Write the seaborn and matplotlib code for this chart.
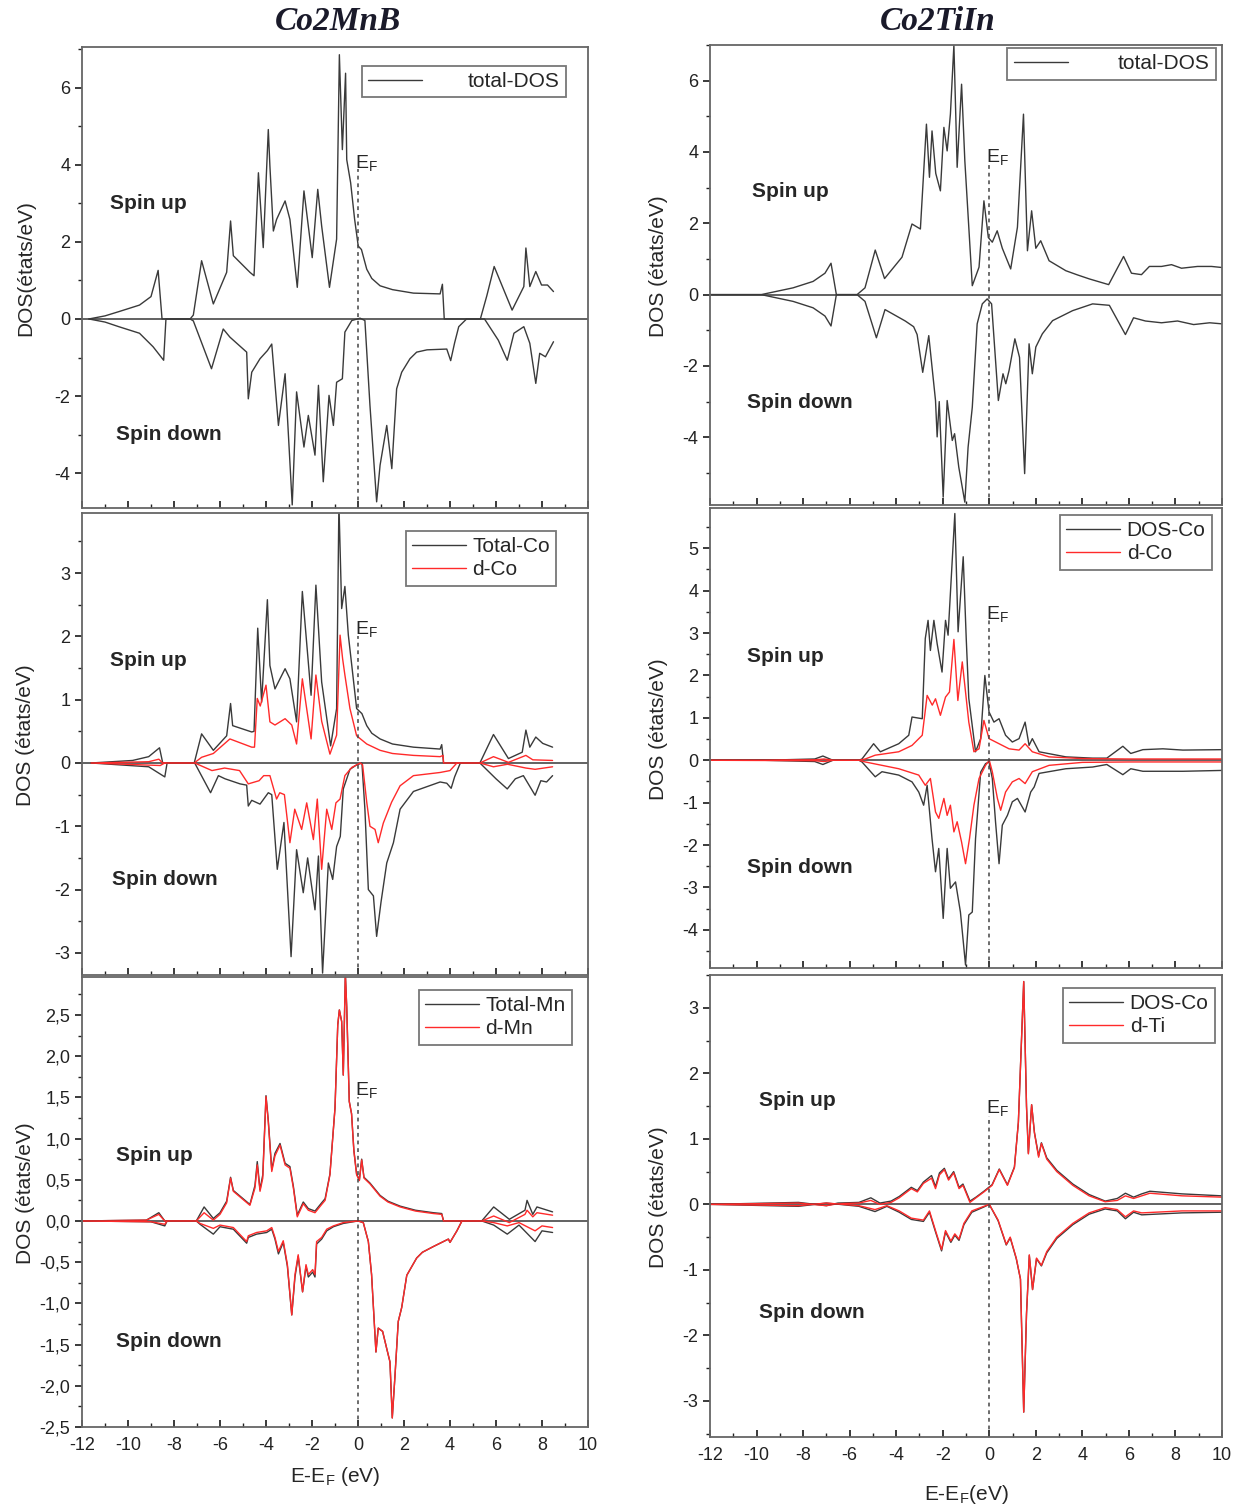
import matplotlib
matplotlib.use("Agg")
import matplotlib.pyplot as plt
from matplotlib.ticker import MultipleLocator, AutoMinorLocator, FuncFormatter
import seaborn as sns

# ---------- Co2MnB : total DOS ----------
mnb_tot_up_e = [-11.7, -11.0, -10.4, -9.5, -9.0, -8.69, -8.52, -7.3, -7.16, -6.8, -6.29, -5.71, -5.54, -5.42, -4.7, -4.52,
                -4.33, -4.12, -3.9, -3.83, -3.68, -3.54, -3.17, -2.96, -2.64, -2.35, -1.99, -1.75, -1.58, -1.24,
                -0.93, -0.81, -0.68, -0.54, -0.49, -0.32, -0.15, 0.01, 0.15, 0.38, 0.6, 0.96, 1.5, 2.41, 3.57, 3.67, 3.75,
                5.32, 5.6, 5.92, 6.7, 7.21, 7.3, 7.47, 7.73, 7.98, 8.24, 8.5]
mnb_tot_up = [0.0, 0.08, 0.19, 0.36, 0.58, 1.26, 0.0, 0.0, 0.1, 1.51, 0.39, 1.21, 2.54, 1.64, 1.21, 1.12,
              3.79, 1.85, 4.91, 3.96, 2.28, 2.58, 3.06, 2.58, 0.82, 3.32, 1.59, 3.36, 2.41, 0.82,
              2.07, 6.85, 4.39, 6.37, 4.13, 3.53, 2.6, 1.89, 1.8, 1.29, 1.05, 0.86, 0.76, 0.67, 0.65, 0.9, 0.0,
              0.0, 0.6, 1.36, 0.23, 0.84, 1.84, 0.84, 1.23, 0.88, 0.88, 0.71]
mnb_tot_dn_e = [-11.7, -11.0, -10.4, -9.5, -8.91, -8.45, -8.35, -7.3, -7.16, -6.37, -5.86, -5.57, -4.84, -4.77, -4.62,
                -4.26, -3.94, -3.75, -3.46, -3.17, -2.86, -2.67, -2.35, -2.16, -1.87, -1.72, -1.51, -1.26, -1.07,
                -0.93, -0.68, -0.57, -0.27, 0.09, 0.3, 0.52, 0.81, 0.96, 1.25, 1.47, 1.68, 1.9, 2.26, 2.55, 3.0, 3.86,
                4.03, 4.2, 4.38, 4.72, 5.5, 6.1, 6.49, 6.78, 7.21, 7.47, 7.73, 7.9, 8.15, 8.5]
mnb_tot_dn = [0.0, -0.08, -0.2, -0.37, -0.72, -1.07, 0.0, 0.0, -0.05, -1.29, -0.26, -0.47, -0.86, -2.07, -1.38,
              -1.03, -0.82, -0.65, -2.76, -1.42, -4.82, -1.89, -3.32, -2.5, -3.53, -1.72, -4.22, -1.98, -2.76,
              -1.64, -1.55, -0.34, -0.04, 0.02, -0.04, -2.24, -4.74, -3.79, -2.76, -3.88, -1.81, -1.38, -1.03, -0.86, -0.8, -0.78,
              -1.08, -0.62, -0.2, 0.0, 0.0, -0.55, -1.07, -0.37, -0.2, -0.63, -1.67, -0.89, -0.98, -0.59]

# ---------- Co2MnB : Co ----------
mnb_co_up_e = [-11.6, -9.8, -9.1, -8.63, -8.49, -7.12, -6.8, -6.29, -5.71, -5.54, -5.45, -4.62, -4.52, -4.36, -4.19,
               -3.94, -3.83, -3.61, -3.46, -3.17, -2.96, -2.67, -2.42, -2.04, -1.83, -1.58, -1.19, -0.93, -0.83,
               -0.71, -0.57, -0.42, -0.27, -0.06, 0.17, 0.38, 0.6, 0.96, 1.5, 2.41, 3.57, 3.64, 3.72, 5.3, 5.89, 6.54, 7.14,
               7.3, 7.47, 7.73, 8.03, 8.46]
mnb_co_up = [0.0, 0.04, 0.1, 0.24, 0.0, 0.0, 0.46, 0.2, 0.43, 0.94, 0.59, 0.49, 0.5, 2.13, 0.96,
             2.58, 1.54, 1.17, 1.28, 1.49, 1.33, 0.65, 2.71, 1.07, 2.81, 1.28, 0.27, 0.86, 4.1,
             2.44, 2.79, 2.02, 1.54, 0.86, 0.78, 0.59, 0.47, 0.38, 0.3, 0.25, 0.22, 0.29, 0.0, 0.0, 0.45, 0.07, 0.17,
             0.52, 0.25, 0.41, 0.31, 0.25]
mnb_dco_up_e = [-11.6, -9.1, -8.66, -8.49, -7.12, -6.8, -6.29, -5.57, -4.62, -4.5, -4.38, -4.25, -4.0, -3.83, -3.61,
                -3.17, -2.88, -2.67, -2.42, -2.04, -1.83, -1.58, -1.22, -0.93, -0.78, -0.67, -0.57, -0.35, -0.06,
                0.38, 0.96, 1.5, 2.41, 3.57, 3.7, 3.72, 5.3, 5.89, 6.54, 7.3, 7.6, 8.46]
mnb_dco_up = [0.0, 0.02, 0.06, 0.0, 0.0, 0.09, 0.15, 0.38, 0.25, 0.25, 1.02, 0.9, 1.23, 0.65, 0.6,
              0.7, 0.6, 0.3, 1.33, 0.38, 1.39, 0.66, 0.14, 0.44, 2.02, 1.65, 1.39, 0.86, 0.43,
              0.3, 0.2, 0.15, 0.12, 0.1, 0.12, 0.0, 0.0, 0.1, 0.01, 0.12, 0.05, 0.04]
mnb_co_dn_e = [-11.6, -9.1, -8.4, -8.3, -7.1, -6.41, -6.07, -5.78, -5.13, -4.84, -4.77, -4.62, -4.26, -3.9, -3.75,
               -3.51, -3.22, -2.91, -2.67, -2.38, -2.19, -1.87, -1.72, -1.54, -1.29, -1.1, -0.93, -0.77, -0.64,
               -0.35, -0.06, 0.17, 0.3, 0.45, 0.67, 0.81, 1.0, 1.25, 1.54, 1.83, 2.41, 3.57, 3.86, 4.05, 4.2, 4.45,
               5.3, 6.0, 6.49, 6.84, 7.19, 7.7, 7.95, 8.2, 8.46]
mnb_co_dn = [0.0, -0.06, -0.22, 0.0, 0.0, -0.47, -0.2, -0.25, -0.33, -0.35, -0.68, -0.59, -0.65, -0.47, -0.5,
             -1.68, -0.94, -3.06, -1.37, -2.05, -1.5, -2.32, -1.47, -3.32, -1.58, -1.84, -1.32, -1.16, -0.41,
             -0.1, -0.03, 0.0, -0.73, -2.0, -2.1, -2.74, -2.2, -1.58, -1.26, -0.73, -0.45, -0.3, -0.32, -0.4, -0.22, 0.0,
             0.0, -0.25, -0.41, -0.25, -0.2, -0.51, -0.28, -0.3, -0.2]
mnb_dco_dn_e = [-11.6, -8.6, -8.4, -7.1, -6.35, -5.8, -5.15, -4.77, -4.3, -4.1, -3.83, -3.54, -3.4, -3.2, -2.96,
                -2.75, -2.45, -2.23, -1.94, -1.77, -1.58, -1.36, -1.14, -0.96, -0.78, -0.57, -0.27, 0.1, 0.2, 0.38,
                0.52, 0.74, 0.88, 1.1, 1.46, 1.83, 2.41, 3.57, 4.0, 4.3, 5.3, 5.89, 6.5, 7.3, 7.7, 8.46]
mnb_dco_dn = [0.0, -0.04, 0.0, 0.0, -0.12, -0.08, -0.12, -0.33, -0.28, -0.2, -0.2, -0.57, -0.47, -0.5, -1.26,
              -0.73, -1.05, -0.63, -1.21, -0.57, -1.68, -0.73, -1.05, -0.63, -0.57, -0.2, -0.07, 0.0, -0.03, -0.62,
              -1.0, -1.05, -1.26, -0.95, -0.62, -0.36, -0.2, -0.15, -0.12, 0.0, 0.0, -0.06, -0.02, -0.08, -0.1, -0.06]

# ---------- Co2MnB : Mn ----------
mnb_mn_up_e = [-12.0, -9.2, -8.66, -8.4, -7.03, -6.69, -6.29, -6.0, -5.71, -5.54, -5.42, -4.7, -4.48, -4.38, -4.26,
               -4.14, -4.0, -3.9, -3.75, -3.61, -3.39, -3.17, -2.96, -2.81, -2.64, -2.38, -2.16, -1.87, -1.58,
               -1.43, -1.22, -1.0, -0.88, -0.81, -0.71, -0.64, -0.55, -0.49, -0.38, -0.28, -0.18, -0.06, 0.06,
               0.16, 0.26, 0.52, 0.96, 1.3, 1.83, 2.5, 3.28, 3.64, 3.72, 5.38, 5.9, 6.58, 7.26, 7.35, 7.6, 7.78, 8.46]
mnb_dmn_up = [0.0, 0.01, 0.08, 0.0, 0.0, 0.1, 0.01, 0.08, 0.22, 0.52, 0.36, 0.19, 0.4, 0.68, 0.36,
              0.52, 1.51, 1.2, 0.6, 0.79, 0.92, 0.68, 0.64, 0.4, 0.05, 0.21, 0.13, 0.1, 0.2,
              0.25, 0.56, 1.37, 2.38, 2.56, 2.42, 1.77, 3.0, 2.59, 1.45, 1.3, 0.85, 0.56, 0.49,
              0.74, 0.52, 0.45, 0.3, 0.23, 0.17, 0.12, 0.09, 0.08, 0.0, 0.0, 0.06, -0.02, 0.08, 0.13, 0.05, 0.1, 0.07]
mnb_mn_up = [0.0, 0.01, 0.1, 0.0, 0.0, 0.17, 0.03, 0.1, 0.24, 0.53, 0.37, 0.2, 0.43, 0.72, 0.38,
             0.56, 1.52, 1.22, 0.62, 0.82, 0.94, 0.7, 0.66, 0.42, 0.07, 0.23, 0.15, 0.12, 0.22,
             0.27, 0.57, 1.37, 2.38, 2.56, 2.42, 1.77, 3.0, 2.59, 1.45, 1.3, 0.86, 0.57, 0.5,
             0.75, 0.53, 0.46, 0.31, 0.24, 0.18, 0.13, 0.1, 0.09, 0.0, 0.0, 0.17, 0.02, 0.13, 0.25, 0.08, 0.17, 0.11]
mnb_mn_dn_e = [-12.0, -9.0, -8.4, -8.3, -7.03, -6.87, -6.29, -6.0, -5.42, -4.84, -4.77, -4.41, -3.97, -3.75, -3.61,
               -3.46, -3.25, -3.07, -2.88, -2.74, -2.6, -2.41, -2.26, -2.16, -1.97, -1.87, -1.8, -1.58, -1.36,
               -1.07, -0.64, 0.0, 0.23, 0.45, 0.59, 0.78, 0.88, 1.07, 1.25, 1.39, 1.49, 1.61, 1.75, 1.9, 2.12,
               2.55, 2.8, 3.28, 3.93, 4.0, 4.3, 4.52, 5.38, 5.9, 6.49, 7.0, 7.7, 8.0, 8.46]
mnb_dmn_dn = [0.0, -0.01, -0.04, 0.0, 0.0, -0.03, -0.09, -0.05, -0.08, -0.25, -0.18, -0.14, -0.12, -0.08, -0.2,
              -0.37, -0.24, -0.53, -1.14, -0.65, -0.41, -0.86, -0.53, -0.65, -0.59, -0.65, -0.25, -0.2, -0.1,
              -0.06, -0.02, 0.0, -0.02, -0.25, -0.65, -1.59, -1.3, -1.34, -1.55, -1.71, -2.39, -1.87, -1.22, -1.05, -0.66,
              -0.45, -0.38, -0.31, -0.22, -0.26, -0.12, 0.0, 0.0, -0.02, -0.06, -0.02, -0.12, -0.06, -0.08]
mnb_mn_dn = [0.0, -0.01, -0.06, 0.0, 0.0, -0.04, -0.16, -0.07, -0.1, -0.27, -0.2, -0.16, -0.14, -0.1, -0.22,
             -0.4, -0.26, -0.55, -1.14, -0.68, -0.43, -0.86, -0.55, -0.68, -0.62, -0.68, -0.28, -0.22, -0.12,
             -0.07, -0.03, 0.0, -0.02, -0.25, -0.65, -1.59, -1.3, -1.34, -1.55, -1.71, -2.39, -1.87, -1.22, -1.05, -0.66,
             -0.45, -0.38, -0.31, -0.22, -0.26, -0.12, 0.0, 0.0, -0.05, -0.16, -0.05, -0.25, -0.12, -0.14]

# ---------- Co2TiIn : total DOS ----------
tin_tot_up_e = [-12.0, -9.8, -8.43, -7.57, -7.06, -6.8, -6.57, -5.68, -5.34, -4.9, -4.5, -3.75, -3.32, -2.96, -2.7,
                -2.57, -2.46, -2.3, -2.1, -1.95, -1.81, -1.67, -1.52, -1.38, -1.19, -1.05, -0.73, -0.44, -0.23,
                -0.04, 0.13, 0.34, 0.56, 0.92, 1.21, 1.47, 1.64, 1.82, 2.0, 2.21, 2.57, 3.29, 3.8, 4.3, 5.13, 5.77,
                6.11, 6.54, 6.88, 7.4, 7.83, 8.26, 8.95, 9.55, 10.0]
tin_tot_up = [0.0, 0.0, 0.19, 0.37, 0.6, 0.88, 0.0, 0.0, 0.19, 1.25, 0.45, 1.05, 1.98, 1.84, 4.78,
              3.29, 4.59, 3.4, 2.91, 4.69, 4.03, 5.06, 7.0, 3.57, 5.9, 3.75, 0.25, 0.77, 2.63,
              1.6, 1.47, 1.79, 1.3, 0.72, 1.89, 5.06, 1.23, 2.35, 1.3, 1.51, 0.95, 0.67, 0.55, 0.44, 0.28, 1.07,
              0.6, 0.56, 0.79, 0.79, 0.84, 0.74, 0.79, 0.79, 0.76]
tin_tot_dn_e = [-12.0, -9.8, -8.43, -7.57, -7.06, -6.8, -6.57, -5.68, -5.34, -4.85, -4.48, -3.61, -3.25, -3.1, -2.86,
                -2.6, -2.31, -2.24, -2.15, -1.98, -1.81, -1.59, -1.49, -1.31, -1.05, -0.91, -0.73, -0.52, -0.3,
                -0.09, 0.1, 0.24, 0.39, 0.59, 0.71, 0.85, 1.1, 1.3, 1.52, 1.71, 1.85, 2.0, 2.28, 2.72, 3.58, 4.44,
                5.16, 5.85, 6.2, 6.71, 7.4, 8.09, 8.78, 9.47, 10.0]
tin_tot_dn = [0.0, 0.0, -0.19, -0.37, -0.6, -0.88, 0.0, 0.0, -0.19, -1.21, -0.42, -0.74, -0.9, -1.12, -2.18,
              -1.15, -2.97, -3.99, -3.0, -5.68, -2.97, -4.09, -3.9, -4.84, -5.82, -4.28, -3.16, -0.82, -0.26,
              -0.12, -0.26, -1.57, -2.97, -2.22, -2.5, -2.13, -1.24, -1.76, -5.02, -1.38, -2.22, -1.47, -1.1, -0.73, -0.45, -0.26,
              -0.3, -1.12, -0.65, -0.74, -0.79, -0.74, -0.84, -0.79, -0.82]

# ---------- Co2TiIn : Co ----------
tin_co_up_e = [-12.0, -9.7, -7.5, -7.15, -6.72, -5.6, -5.47, -4.97, -4.68, -3.89, -3.46, -3.32, -2.88, -2.75, -2.63,
               -2.53, -2.38, -2.24, -2.03, -1.88, -1.77, -1.48, -1.34, -1.12, -0.99, -0.88, -0.59, -0.37, -0.19,
               -0.01, 0.2, 0.42, 0.7, 0.99, 1.28, 1.54, 1.71, 1.85, 2.14, 3.29, 4.44, 5.05, 5.74, 6.08, 6.6, 7.46,
               8.32, 10.0]
tin_co_up = [0.0, 0.0, 0.03, 0.1, 0.0, 0.0, 0.03, 0.39, 0.2, 0.39, 0.59, 1.02, 0.98, 2.87, 3.3,
             2.59, 3.3, 2.75, 2.08, 3.3, 2.95, 5.82, 3.03, 4.8, 2.87, 1.46, 0.2, 0.51, 2.0,
             1.14, 0.9, 0.98, 0.59, 0.43, 0.51, 0.9, 0.35, 0.51, 0.2, 0.08, 0.05, 0.05, 0.33, 0.16, 0.25, 0.27,
             0.24, 0.25]
tin_dco_up_e = [-12.0, -7.5, -7.1, -6.7, -5.6, -5.33, -4.9, -3.89, -3.32, -2.88, -2.67, -2.45, -2.31, -2.1, -1.88,
                -1.71, -1.52, -1.35, -1.16, -1.02, -0.88, -0.66, -0.44, -0.23, -0.01, 0.42, 0.85, 1.28, 1.54, 1.85,
                2.57, 4.0, 6.0, 10.0]
tin_dco_up = [0.0, 0.01, 0.03, 0.0, 0.0, 0.03, 0.12, 0.2, 0.35, 0.59, 1.53, 1.3, 1.45, 1.06, 1.49,
              1.61, 2.85, 1.41, 2.32, 1.61, 0.9, 0.2, 0.27, 0.94, 0.51, 0.39, 0.27, 0.24, 0.39, 0.2,
              0.08, 0.04, 0.03, 0.03]
tin_co_dn_e = [-12.0, -9.7, -7.5, -7.15, -6.72, -5.6, -5.47, -4.9, -4.61, -3.89, -3.32, -3.03, -2.82, -2.67, -2.46,
               -2.31, -2.17, -1.98, -1.81, -1.67, -1.45, -1.24, -1.02, -0.88, -0.73, -0.59, -0.37, -0.16, -0.01,
               0.13, 0.27, 0.42, 0.56, 0.78, 0.99, 1.21, 1.54, 1.78, 1.93, 2.14, 3.29, 4.44, 5.05, 5.74, 6.08, 6.6,
               8.32, 10.0]
tin_co_dn = [0.0, 0.0, -0.03, -0.1, 0.0, 0.0, -0.04, -0.39, -0.27, -0.35, -0.51, -0.75, -1.06, -0.59, -1.85,
             -2.63, -2.08, -3.73, -2.08, -3.02, -2.87, -3.58, -4.83, -3.65, -3.58, -1.85, -0.28, -0.08, -0.04,
             -0.43, -1.46, -2.44, -1.53, -1.3, -0.98, -0.9, -1.22, -0.75, -0.63, -0.31, -0.2, -0.16, -0.1, -0.34, -0.2, -0.26,
             -0.26, -0.24]
tin_dco_dn_e = [-12.0, -7.5, -7.1, -6.7, -5.6, -5.33, -3.89, -3.03, -2.75, -2.53, -2.31, -2.17, -1.95, -1.81, -1.67,
                -1.52, -1.38, -1.19, -1.02, -0.85, -0.66, -0.44, -0.16, 0.0, 0.13, 0.35, 0.49, 0.7, 0.99, 1.28,
                1.54, 1.85, 2.57, 4.0, 6.0, 10.0]
tin_dco_dn = [0.0, -0.01, -0.03, 0.0, 0.0, -0.04, -0.2, -0.35, -0.59, -0.43, -1.22, -1.37, -0.9, -1.3, -1.06,
              -1.69, -1.45, -1.93, -2.44, -1.85, -1.06, -0.43, -0.12, 0.0, -0.27, -0.9, -1.18, -0.75, -0.51, -0.43,
              -0.55, -0.27, -0.12, -0.05, -0.04, -0.04]

# ---------- Co2TiIn : Ti ----------
tin_ti_up_e = [-12.0, -8.2, -7.0, -6.5, -5.6, -5.09, -4.7, -4.22, -3.87, -3.35, -3.09, -2.83, -2.48, -2.31, -2.14,
               -1.93, -1.75, -1.53, -1.3, -1.13, -0.83, -0.57, -0.23, 0.12, 0.43, 0.78, 1.08, 1.25, 1.48, 1.6,
               1.68, 1.82, 1.94, 2.12, 2.24, 2.47, 2.9, 3.59, 4.29, 4.98, 5.5, 5.85, 6.2, 6.55, 6.9, 8.28, 10.0]
tin_dti_up = [0.0, 0.02, -0.02, 0.01, 0.02, 0.06, 0.0, 0.03, 0.1, 0.24, 0.19, 0.32, 0.4, 0.24, 0.45,
              0.53, 0.37, 0.48, 0.24, 0.29, 0.03, 0.1, 0.19, 0.29, 0.53, 0.29, 0.56, 1.25, 3.4, 1.5,
              0.77, 1.52, 1.09, 0.72, 0.93, 0.69, 0.5, 0.29, 0.13, 0.04, 0.06, 0.13, 0.09, 0.13, 0.17, 0.13, 0.11]
tin_ti_co_up = [0.0, 0.03, -0.02, 0.02, 0.03, 0.1, 0.02, 0.05, 0.12, 0.26, 0.21, 0.34, 0.44, 0.27, 0.48,
                0.55, 0.39, 0.5, 0.26, 0.31, 0.05, 0.11, 0.2, 0.3, 0.54, 0.3, 0.57, 1.25, 3.4, 1.5,
                0.78, 1.52, 1.1, 0.74, 0.94, 0.71, 0.52, 0.31, 0.15, 0.05, 0.09, 0.17, 0.11, 0.16, 0.2, 0.16, 0.13]
tin_ti_dn_e = [-12.0, -8.2, -7.0, -5.6, -4.91, -4.4, -3.87, -3.35, -2.83, -2.57, -2.31, -2.05, -1.88, -1.65, -1.48,
               -1.3, -1.09, -0.75, -0.23, 0.0, 0.38, 0.73, 0.9, 1.16, 1.34, 1.48, 1.6, 1.72, 1.86, 2.03, 2.24, 2.47,
               2.9, 3.59, 4.29, 4.98, 5.5, 5.85, 6.2, 6.55, 8.28, 10.0]
tin_dti_dn = [0.0, -0.02, 0.02, -0.02, -0.08, -0.02, -0.1, -0.21, -0.24, -0.1, -0.4, -0.69, -0.4, -0.56, -0.45,
              -0.53, -0.29, -0.1, -0.03, 0.0, -0.24, -0.61, -0.5, -0.82, -1.14, -3.17, -1.67, -0.77, -1.3, -0.82, -0.93, -0.72,
              -0.5, -0.29, -0.13, -0.05, -0.08, -0.19, -0.1, -0.13, -0.1, -0.1]
tin_ti_co_dn = [0.0, -0.03, 0.02, -0.03, -0.11, -0.03, -0.12, -0.23, -0.26, -0.12, -0.42, -0.71, -0.42, -0.58, -0.47,
                -0.55, -0.31, -0.12, -0.04, 0.0, -0.25, -0.62, -0.51, -0.83, -1.14, -3.17, -1.67, -0.78, -1.3, -0.83, -0.94, -0.74,
                -0.52, -0.31, -0.15, -0.07, -0.1, -0.22, -0.12, -0.16, -0.13, -0.12]

BLACK = "#3a3a3a"
RED = "#ff2a2a"

sns.set_theme(style="ticks")
plt.rcParams["font.family"] = ["Liberation Sans", "DejaVu Sans"]
plt.rcParams["axes.unicode_minus"] = False

fig = plt.figure(figsize=(12.5, 15.1), dpi=100)


def add_ax(l, t, r, b):
    # pixel box of the reference -> figure fraction
    return fig.add_axes([l / 1250, 1 - b / 1510, (r - l) / 1250, (b - t) / 1510])


def curve(ax, e, d, color, label=None):
    sns.lineplot(x=e, y=d, ax=ax, color=color, lw=1.0, sort=False, estimator=None, label=label)


def style(ax, ylim, ystep, y_ef_top, ef_label_y, up_pos, dn_pos, leg_anchor, ylabel, ylab_x,
          xlabels=False, comma=False, textpad=0.3):
    ax.set_xlim(-12, 10)
    ax.set_ylim(*ylim)
    ax.axhline(0, color="#555555", lw=1.3, zorder=1)
    ax.plot([0, 0], [ylim[0], y_ef_top], ls=(0, (2.5, 2.5)), color="#444444", lw=1.1)
    ax.text(-0.15, ef_label_y, r"E$_\mathregular{F}$", fontsize=14, ha="left", va="bottom")
    ax.text(up_pos[0], up_pos[1], "Spin up", fontsize=15, fontweight="bold", ha="left", va="center")
    ax.text(dn_pos[0], dn_pos[1], "Spin down", fontsize=15, fontweight="bold", ha="left", va="center")
    ax.xaxis.set_major_locator(MultipleLocator(2))
    ax.xaxis.set_minor_locator(MultipleLocator(1))
    ax.yaxis.set_major_locator(MultipleLocator(ystep))
    ax.yaxis.set_minor_locator(AutoMinorLocator(2))
    ax.tick_params(axis="x", which="both", direction="in", labelsize=13, colors="#222222", pad=7)
    ax.tick_params(axis="x", which="major", length=5)
    ax.tick_params(axis="x", which="minor", length=3)
    ax.tick_params(axis="y", which="both", direction="out", labelsize=13, colors="#222222")
    ax.tick_params(axis="y", which="major", length=5)
    ax.tick_params(axis="y", which="minor", length=3)
    if comma:
        ax.yaxis.set_major_formatter(FuncFormatter(lambda v, p: f"{v:.1f}".replace(".", ",")))
    if not xlabels:
        ax.set_xticklabels([])
    for s in ax.spines.values():
        s.set_color("#666666")
        s.set_linewidth(1.3)
    ax.set_ylabel(ylabel, fontsize=15)
    ax.yaxis.set_label_coords(ylab_x, 0.52)
    ax.set_xlabel("")
    leg = ax.legend(loc="upper right", bbox_to_anchor=leg_anchor, borderaxespad=0, fontsize=15,
                    frameon=True, fancybox=False, edgecolor="#555555", handlelength=2.6,
                    handletextpad=textpad, borderpad=0.3, labelspacing=0.2)
    leg.get_frame().set_linewidth(1.3)
    return leg


# ----- left column : Co2MnB -----
ax1 = add_ax(82, 47, 588, 508)
curve(ax1, mnb_tot_up_e, mnb_tot_up, BLACK, "total-DOS")
curve(ax1, mnb_tot_dn_e, mnb_tot_dn, BLACK)
style(ax1, (-4.9, 7.05), 2, 3.9, 3.75, (-10.8, 3.0), (-10.5, -3.0), (0.957, 0.959),
      "DOS(états/eV)", -0.093, textpad=2.2)

ax2 = add_ax(82, 513, 588, 975)
curve(ax2, mnb_co_up_e, mnb_co_up, BLACK, "Total-Co")
curve(ax2, mnb_dco_up_e, mnb_dco_up, RED, "d-Co")
curve(ax2, mnb_co_dn_e, mnb_co_dn, BLACK)
curve(ax2, mnb_dco_dn_e, mnb_dco_dn, RED)
style(ax2, (-3.35, 3.95), 1, 2.0, 1.95, (-10.8, 1.62), (-10.7, -1.84), (0.937, 0.961),
      "DOS (états/eV)", -0.093)

ax3 = add_ax(82, 977, 588, 1427)
curve(ax3, mnb_mn_up_e, mnb_mn_up, BLACK, "Total-Mn")
curve(ax3, mnb_mn_up_e, mnb_dmn_up, RED, "d-Mn")
curve(ax3, mnb_mn_dn_e, mnb_mn_dn, BLACK)
curve(ax3, mnb_mn_dn_e, mnb_dmn_dn, RED)
style(ax3, (-2.5, 2.96), 0.5, 1.5, 1.45, (-10.5, 0.8), (-10.5, -1.46), (0.968, 0.971),
      "DOS (états/eV)", -0.093, xlabels=True, comma=True)
ax3.set_xlabel(r"E-E$_\mathregular{F}$ (eV)", fontsize=15, labelpad=8)

# ----- right column : Co2TiIn -----
ax4 = add_ax(710, 45, 1222, 505)
curve(ax4, tin_tot_up_e, tin_tot_up, BLACK, "total-DOS")
curve(ax4, tin_tot_dn_e, tin_tot_dn, BLACK)
style(ax4, (-5.9, 7.0), 2, 3.7, 3.55, (-10.2, 2.89), (-10.4, -3.03), (0.988, 0.993),
      "DOS (états/eV)", -0.082, textpad=2.4)

ax5 = add_ax(710, 508, 1222, 968)
curve(ax5, tin_co_up_e, tin_co_up, BLACK, "DOS-Co")
curve(ax5, tin_dco_up_e, tin_dco_up, RED, "d-Co")
curve(ax5, tin_co_dn_e, tin_co_dn, BLACK)
curve(ax5, tin_dco_dn_e, tin_dco_dn, RED)
style(ax5, (-4.9, 5.95), 1, 3.3, 3.2, (-10.4, 2.45), (-10.4, -2.52), (0.98, 0.985),
      "DOS (états/eV)", -0.082)

ax6 = add_ax(710, 975, 1222, 1437)
curve(ax6, tin_ti_up_e, tin_ti_co_up, BLACK, "DOS-Co")
curve(ax6, tin_ti_up_e, tin_dti_up, RED, "d-Ti")
curve(ax6, tin_ti_dn_e, tin_ti_co_dn, BLACK)
curve(ax6, tin_ti_dn_e, tin_dti_dn, RED)
style(ax6, (-3.55, 3.5), 1, 1.35, 1.3, (-9.9, 1.58), (-9.9, -1.65), (0.986, 0.972),
      "DOS (états/eV)", -0.082, xlabels=True)
ax6.set_xlabel(r"E-E$_\mathregular{F}$(eV)", fontsize=15, labelpad=14)

fig.text(0.27, 0.986, "Co2MnB", fontsize=24, fontweight="bold", fontstyle="italic",
         family="Liberation Serif", ha="center", va="center", color="#1a1a2a")
fig.text(0.75, 0.986, "Co2TiIn", fontsize=24, fontweight="bold", fontstyle="italic",
         family="Liberation Serif", ha="center", va="center", color="#1a1a2a")

fig.savefig("out.png", dpi=100)
